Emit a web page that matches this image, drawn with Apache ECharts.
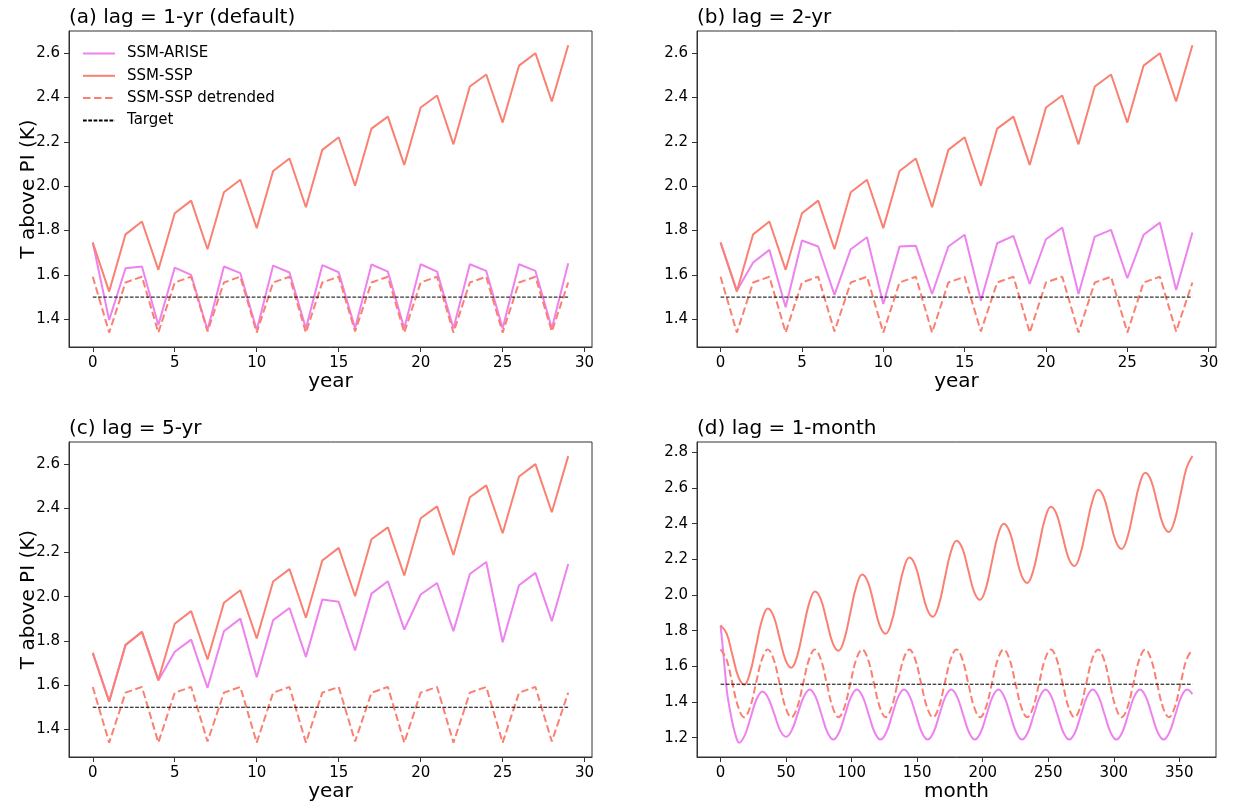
<!DOCTYPE html>
<html>
<head>
<meta charset="utf-8">
<script src="https://cdn.jsdelivr.net/npm/echarts@6/dist/echarts.min.js"></script>
<style>
html,body{margin:0;padding:0;background:#fff;}
#chart{width:1233px;height:808px;}
</style>
</head>
<body>
<div id="chart"></div>
<script>
// ---------- data ----------
const years = [0,1,2,3,4,5,6,7,8,9,10,11,12,13,14,15,16,17,18,19,20,21,22,23,24,25,26,27,28,29];
const sspYear = [1.746,1.525,1.783,1.841,1.623,1.878,1.935,1.716,1.973,2.029,1.811,2.069,2.125,1.905,2.164,2.221,2.002,2.260,2.314,2.096,2.355,2.409,2.189,2.450,2.504,2.287,2.544,2.600,2.382,2.636];
const detrendedYear = [1.592,1.340,1.566,1.592,1.340,1.566,1.592,1.345,1.566,1.592,1.340,1.566,1.592,1.340,1.566,1.592,1.345,1.566,1.592,1.340,1.566,1.592,1.340,1.566,1.592,1.340,1.566,1.592,1.345,1.566];
const ariseLag1yr = [1.746,1.397,1.630,1.638,1.374,1.633,1.600,1.352,1.638,1.608,1.352,1.642,1.611,1.359,1.644,1.612,1.359,1.647,1.615,1.359,1.648,1.615,1.359,1.648,1.618,1.359,1.648,1.618,1.359,1.653];
const ariseLag2yr = [1.746,1.529,1.656,1.713,1.454,1.755,1.728,1.510,1.716,1.770,1.469,1.728,1.732,1.514,1.728,1.781,1.484,1.743,1.776,1.559,1.761,1.814,1.514,1.773,1.803,1.585,1.781,1.836,1.532,1.791];
const ariseLag5yr = [1.746,1.528,1.781,1.841,1.621,1.751,1.806,1.588,1.844,1.901,1.636,1.894,1.949,1.728,1.987,1.977,1.757,2.014,2.070,1.851,2.010,2.062,1.844,2.103,2.157,1.794,2.052,2.108,1.889,2.148];
const targetYearX = [0, 29];
const targetValue = 1.5;

const months = [0,4.5,9,13.5,18,22.5,27,31.5,36,40.5,45,49.5,54,58.5,63,67.5,72,76.5,81,85.5,90,94.5,99,103.5,108,112.5,117,121.5,126,130.5,135,139.5,144,148.5,153,157.5,162,166.5,171,175.5,180,184.5,189,193.5,198,202.5,207,211.5,216,220.5,225,229.5,234,238.5,243,247.5,252,256.5,261,265.5,270,274.5,279,283.5,288,292.5,297,301.5,306,310.5,315,319.5,324,328.5,333,337.5,342,346.5,351,355.5,360];
const sspMonth = [1.830,1.786,1.664,1.542,1.497,1.565,1.711,1.857,1.925,1.881,1.759,1.637,1.593,1.660,1.806,1.952,2.020,1.976,1.854,1.732,1.688,1.755,1.901,2.047,2.115,2.071,1.949,1.827,1.783,1.850,1.996,2.142,2.210,2.166,2.044,1.922,1.878,1.945,2.091,2.237,2.305,2.261,2.139,2.017,1.973,2.040,2.186,2.332,2.400,2.356,2.234,2.112,2.068,2.135,2.281,2.427,2.495,2.451,2.329,2.207,2.163,2.230,2.376,2.522,2.590,2.546,2.424,2.302,2.258,2.325,2.471,2.617,2.685,2.641,2.519,2.397,2.353,2.420,2.566,2.712,2.780];
const detrendedMonth = [1.695,1.639,1.505,1.371,1.315,1.371,1.505,1.639,1.695,1.639,1.505,1.371,1.315,1.371,1.505,1.639,1.695,1.639,1.505,1.371,1.315,1.371,1.505,1.639,1.695,1.639,1.505,1.371,1.315,1.371,1.505,1.639,1.695,1.639,1.505,1.371,1.315,1.371,1.505,1.639,1.695,1.639,1.505,1.371,1.315,1.371,1.505,1.639,1.695,1.639,1.505,1.371,1.315,1.371,1.505,1.639,1.695,1.639,1.505,1.371,1.315,1.371,1.505,1.639,1.695,1.639,1.505,1.371,1.315,1.371,1.505,1.639,1.695,1.639,1.505,1.371,1.315,1.371,1.505,1.639,1.695];
const ariseMonthX = [0,1,2,3,4,5,7,9,11,12.5,14,18.5,23,27.5,32,36.5,41,45.5,50,54.5,59,63.5,68,72.5,77,81.5,86,90.5,95,99.5,104,108.5,113,117.5,122,126.5,131,135.5,140,144.5,149,153.5,158,162.5,167,171.5,176,180.5,185,189.5,194,198.5,203,207.5,212,216.5,221,225.5,230,234.5,239,243.5,248,252.5,257,261.5,266,270.5,275,279.5,284,288.5,293,297.5,302,306.5,311,315.5,320,324.5,329,333.5,338,342.5,347,351.5,356,360];
const ariseMonth = [1.830,1.755,1.680,1.600,1.520,1.450,1.360,1.285,1.225,1.190,1.172,1.215,1.315,1.417,1.459,1.420,1.332,1.240,1.205,1.245,1.338,1.430,1.470,1.429,1.330,1.231,1.190,
1.231,1.330,1.429,1.470,1.429,1.330,1.231,1.190,
1.231,1.330,1.429,1.470,1.429,1.330,1.231,1.190,
1.231,1.330,1.429,1.470,1.429,1.330,1.231,1.190,
1.231,1.330,1.429,1.470,1.429,1.330,1.231,1.190,
1.231,1.330,1.429,1.470,1.429,1.330,1.231,1.190,
1.231,1.330,1.429,1.470,1.429,1.330,1.231,1.190,
1.231,1.330,1.429,1.470,1.429,1.330,1.231,1.190,
1.231,1.330,1.429,1.470,1.445];
const targetMonthX = [0, 360];

const yearTicks = [0,5,10,15,20,25,30];
const monthTicks = [0,50,100,150,200,250,300,350];
const yTicksYear = [1.4,1.6,1.8,2.0,2.2,2.4,2.6];
const yTicksMonth = [1.2,1.4,1.6,1.8,2.0,2.2,2.4,2.6,2.8];
const titles = ['(a) lag = 1-yr (default)','(b) lag = 2-yr','(c) lag = 5-yr','(d) lag = 1-month'];
const names = ['SSM-ARISE','SSM-SSP','SSM-SSP detrended','Target'];

// ---------- layout / style ----------
const FONT = 'DejaVu Sans';
const C_ARISE = '#EE82EE', C_SSP = '#FA8072', C_TGT = '#000000';
const FRAME = '#333';
const grids = [
  {left:69, top:31, width:523, height:316},
  {left:697, top:31, width:519, height:316},
  {left:69, top:442, width:523, height:315},
  {left:697, top:442, width:519, height:315}
];
const zip = (xs, ys) => xs.map((x, i) => [x, ys[i]]);
const flat = (xs, v) => xs.map(x => [x, v]);

const panels = [
  {arise: zip(years, ariseLag1yr), ssp: zip(years, sspYear), det: zip(years, detrendedYear), tgt: flat(targetYearX, targetValue),
   xmin:-1.45, xmax:30.45, xticks: yearTicks, xname:'year', ymin:1.275, ymax:2.70, yticks: yTicksYear, yname:'T above PI (K)', smooth:false},
  {arise: zip(years, ariseLag2yr), ssp: zip(years, sspYear), det: zip(years, detrendedYear), tgt: flat(targetYearX, targetValue),
   xmin:-1.45, xmax:30.45, xticks: yearTicks, xname:'year', ymin:1.275, ymax:2.70, yticks: yTicksYear, yname:'', smooth:false},
  {arise: zip(years, ariseLag5yr), ssp: zip(years, sspYear), det: zip(years, detrendedYear), tgt: flat(targetYearX, targetValue),
   xmin:-1.45, xmax:30.45, xticks: yearTicks, xname:'year', ymin:1.275, ymax:2.70, yticks: yTicksYear, yname:'T above PI (K)', smooth:false},
  {arise: zip(ariseMonthX, ariseMonth), ssp: zip(months, sspMonth), det: zip(months, detrendedMonth), tgt: flat(targetMonthX, targetValue),
   xmin:-18, xmax:378, xticks: monthTicks, xname:'month', ymin:1.092, ymax:2.858, yticks: yTicksMonth, yname:'', smooth:0.4}
];

const tickStyle = {show:true, inside:false, length:5, lineStyle:{color:FRAME, width:1}};
const labelStyle = {color:'#000', fontSize:15, fontFamily:FONT};
const nameStyle = {color:'#000', fontSize:20, fontFamily:FONT};

const option = {
  animation:false,
  backgroundColor:'#fff',
  title: titles.map((t, i) => ({
    text:t, left:grids[i].left, top:grids[i].top - 23, padding:0,
    textStyle:{fontSize:20, fontWeight:'normal', color:'#000', fontFamily:FONT}
  })),
  legend: {
    data:names, orient:'vertical', left:77, top:41,
    itemWidth:32, itemHeight:14, itemGap:7.3,
    itemStyle:{opacity:0},
    textStyle:{fontSize:15, color:'#000', fontFamily:FONT, padding:[0,0,0,7]}
  },
  grid: grids.map(g => Object.assign({show:true, borderColor:FRAME, borderWidth:1, backgroundColor:'transparent', containLabel:false}, g)),
  xAxis: panels.map((p, i) => ({
    type:'value', gridIndex:i, min:p.xmin, max:p.xmax,
    name:p.xname, nameLocation:'middle', nameGap:25, nameTextStyle:nameStyle,
    axisLine:{show:true, onZero:false, lineStyle:{color:FRAME, width:1}}, splitLine:{show:false},
    axisTick:Object.assign({customValues:p.xticks}, tickStyle),
    axisLabel:Object.assign({customValues:p.xticks, margin:9}, labelStyle)
  })),
  yAxis: panels.map((p, i) => ({
    type:'value', gridIndex:i, min:p.ymin, max:p.ymax,
    name:p.yname, nameLocation:'middle', nameGap:30, nameRotate:90, nameMoveOverlap:false, nameTextStyle:nameStyle,
    axisLine:{show:true, onZero:false, lineStyle:{color:FRAME, width:1}}, splitLine:{show:false},
    axisTick:Object.assign({customValues:p.yticks}, tickStyle),
    axisLabel:Object.assign({customValues:p.yticks, margin:9, formatter: v => v.toFixed(1)}, labelStyle)
  })),
  series: []
};

panels.forEach((p, i) => {
  const base = {type:'line', xAxisIndex:i, yAxisIndex:i, symbol:'none', showSymbol:false, silent:true, smooth:p.smooth};
  option.series.push(Object.assign({}, base, {name:names[0], data:p.arise, lineStyle:{color:C_ARISE, width:2}, itemStyle:{color:C_ARISE}}));
  option.series.push(Object.assign({}, base, {name:names[1], data:p.ssp, lineStyle:{color:C_SSP, width:2}, itemStyle:{color:C_SSP}}));
  option.series.push(Object.assign({}, base, {name:names[2], data:p.det, lineStyle:{color:C_SSP, width:2, type:[7.5,3.5]}, itemStyle:{color:C_SSP}}));
  option.series.push(Object.assign({}, base, {name:names[3], data:p.tgt, smooth:false, lineStyle:{color:C_TGT, width:1, type:[3.7,1.6]}, itemStyle:{color:C_TGT}}));
});

const chart = echarts.init(document.getElementById('chart'), null, {renderer:'canvas'});
chart.setOption(option);
</script>
</body>
</html>
